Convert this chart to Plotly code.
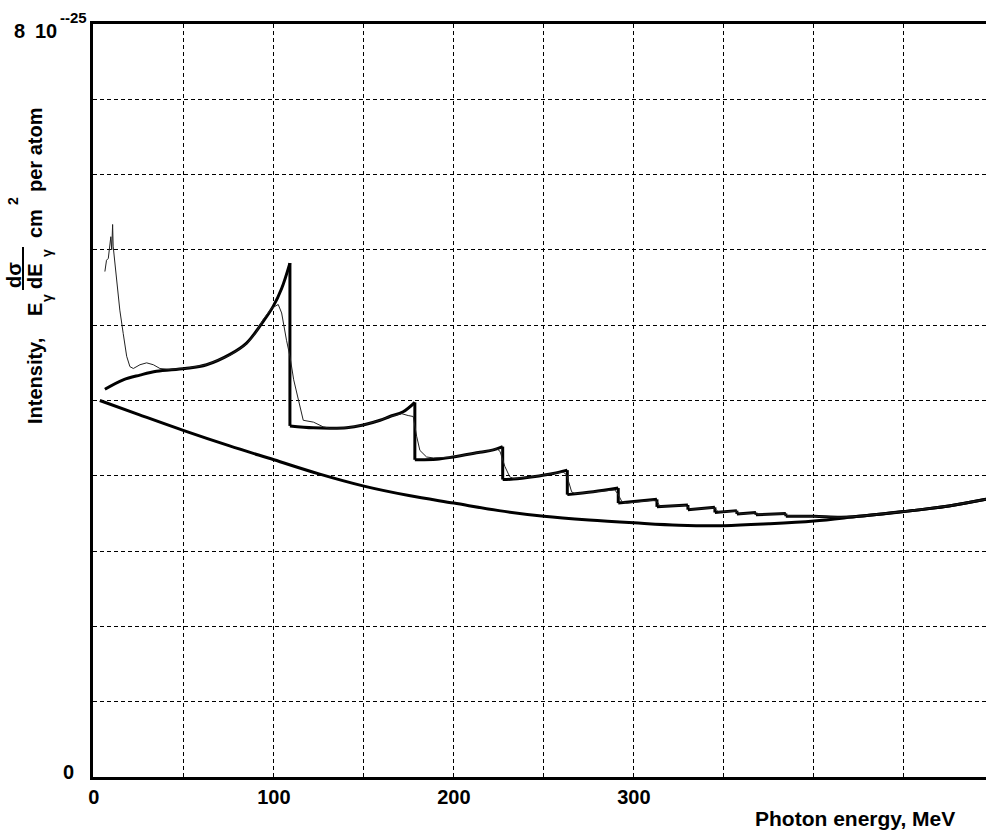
import plotly.graph_objects as go

# Photon energy (MeV) and intensity (units of 1e-25 cm^2 per atom)

# incoherent bremsstrahlung (smooth lower curve)
incoh_e = [3.3, 25, 50, 75, 100, 125, 150, 175, 200, 225, 250, 275, 300,
           325, 350, 375, 400, 425, 450, 475, 495.6]
incoh_i = [4.00, 3.85, 3.68, 3.52, 3.37, 3.22, 3.09, 2.99, 2.91, 2.83, 2.77,
           2.73, 2.70, 2.675, 2.67, 2.69, 2.72, 2.77, 2.82, 2.88, 2.95]

# coherent + incoherent calculation (thick curve with the steps)
calc_e = [6.1, 16.3, 25.6, 34.8, 50.6, 62.6, 75.6, 84.8, 92.2, 99.6, 104.3, 108.9,
          108.9, 121.8, 131.1, 140.4, 149.6, 159, 164.4, 171.8, 178.3,
          178.3, 190.4, 199.6, 214.4, 221.9, 227.1,
          227.1, 233, 244, 255.2, 263,
          263, 277.4, 291.3,
          291.3, 312.8,
          312.8, 330,
          330, 345,
          345, 357.2,
          357.2, 367.8,
          367.8, 384.4,
          384.4, 400, 415, 425, 450, 475, 495.6]
calc_i = [4.12, 4.22, 4.27, 4.31, 4.34, 4.38, 4.49, 4.61, 4.79, 5.00, 5.19, 5.46,
          3.73, 3.71, 3.705, 3.71, 3.74, 3.79, 3.83, 3.88, 3.98,
          3.37, 3.375, 3.40, 3.45, 3.475, 3.51,
          3.16, 3.165, 3.19, 3.225, 3.26,
          3.00, 3.03, 3.07,
          2.91, 2.95,
          2.87, 2.89,
          2.84, 2.865,
          2.81, 2.83,
          2.795, 2.81,
          2.785, 2.80,
          2.77, 2.77, 2.76, 2.77, 2.82, 2.88, 2.95]

# measured spectrum (thin curve)
meas_e = [6.1, 7.0, 8.0, 8.9, 9.4, 9.9, 10.4, 10.7, 12.6, 14.4, 16.3, 18.2, 20,
          21.9, 25.6, 29.3, 33, 36.7, 42, 50.6, 62.6, 75.6, 84.8, 90, 94, 98.7,
          102.4, 104.3, 107, 108.9, 111, 113.5, 116.3, 122, 127.4, 131.1, 140.4,
          149.6, 159, 164.4, 171, 174.6, 177.4, 179.3, 181.1, 184.8, 188.5,
          199.6, 214.4, 221.9, 223.7, 225.6, 228.3, 231, 233, 244, 255.2, 260.7,
          262.6, 265.4, 267.2, 277.4, 289.4, 291.3, 293.2, 296, 310, 312.8, 314.5,
          328.5, 330, 331.5, 344, 345.5, 347, 356.5, 357.8, 359, 367.5, 368.5,
          383.5, 385.5, 400, 415, 425, 450, 475, 495.6]
meas_i = [5.37, 5.49, 5.51, 5.67, 5.74, 5.60, 5.87, 5.64, 5.28, 4.96, 4.71, 4.47,
          4.36, 4.34, 4.38, 4.40, 4.38, 4.34, 4.33, 4.34, 4.38, 4.48, 4.60, 4.72,
          4.86, 4.98, 5.02, 4.93, 4.64, 4.47, 4.22, 4.00, 3.79, 3.77, 3.72, 3.705,
          3.71, 3.74, 3.79, 3.83, 3.86, 3.84, 3.83, 3.62, 3.47, 3.40, 3.39,
          3.40, 3.45, 3.475, 3.49, 3.46, 3.30, 3.19, 3.17, 3.19, 3.225, 3.24,
          3.21, 3.03, 3.01, 3.03, 3.05, 3.00, 2.93, 2.91, 2.94, 2.93, 2.875,
          2.885, 2.87, 2.845, 2.86, 2.845, 2.815, 2.825, 2.81, 2.795, 2.805,
          2.79, 2.795, 2.775, 2.77, 2.76, 2.77, 2.82, 2.88, 2.95]

x_grid = [0, 50, 100, 150, 200, 250, 300, 350, 400, 450]
x_labels = ['0', '', '100', '', '200', '', '300', '', '', '']
y_grid = [0, 0.8, 1.6, 2.4, 3.2, 4.0, 4.8, 5.6, 6.4, 7.2, 8.0]

W, H = 986, 838
L, R, T, B = 93, 0, 24, 61
FONT = 'Liberation Sans, Arial, sans-serif'


def px(x):
    return (x - L) / (W - L - R)


def py(y):
    return (H - B - y) / (H - T - B)


fig = go.Figure()

fig.add_trace(go.Scatter(x=incoh_e, y=incoh_i, mode='lines',
                         line=dict(color='black', width=3, shape='spline'),
                         hoverinfo='skip', showlegend=False))

# draw the calculated curve piece by piece so each piece can be smoothed,
# with the vertical drops between pieces as straight lines
start = 0
for k in range(1, len(calc_e) + 1):
    if k == len(calc_e) or calc_e[k] == calc_e[k - 1]:
        fig.add_trace(go.Scatter(x=calc_e[start:k], y=calc_i[start:k], mode='lines',
                                 line=dict(color='black', width=3, shape='spline'),
                                 hoverinfo='skip', showlegend=False))
        if k < len(calc_e):
            fig.add_trace(go.Scatter(x=calc_e[k - 1:k + 1], y=calc_i[k - 1:k + 1],
                                     mode='lines', line=dict(color='black', width=3),
                                     hoverinfo='skip', showlegend=False))
        start = k

fig.add_trace(go.Scatter(x=meas_e, y=meas_i, mode='lines',
                         line=dict(color='#222222', width=1),
                         hoverinfo='skip', showlegend=False))

fig.update_xaxes(range=[-0.5, 495.6], tickvals=x_grid, ticktext=x_labels,
                 showgrid=True, gridcolor='black', gridwidth=1, griddash='4px,3px',
                 showline=True, linecolor='black', linewidth=3, mirror=True,
                 zeroline=False, ticks='', ticklabelstandoff=0,
                 tickfont=dict(family=FONT, size=20, color='black', weight='bold'))
fig.update_yaxes(range=[0, 8], tickvals=y_grid, showticklabels=False,
                 showgrid=True, gridcolor='black', gridwidth=1, griddash='4px,3px',
                 showline=True, linecolor='black', linewidth=3,
                 zeroline=False, ticks='')

ann = []


def text(s, x, y, size=20, angle=0, xanchor='center'):
    ann.append(dict(text=s, x=px(x), y=py(y), xref='paper', yref='paper',
                    showarrow=False, textangle=angle, xanchor=xanchor,
                    yanchor='middle',
                    font=dict(family=FONT, size=size, color='black', weight='bold')))


# y-axis end labels
text('0', 68, 772)
text('8', 19, 31)
text('10', 46, 31)
text('--25', 73, 17, size=15)

# x-axis title
text('Photon energy, MeV', 855, 818, size=21)

# rotated y-axis title: Intensity, E_γ dσ/dE_γ cm^2 per atom
text('Intensity,', 35, 381, angle=-90)
text('E', 35, 310, angle=-90)
text('γ', 47, 298, size=14, angle=-90)
text('dσ', 14, 275, angle=-90)
text('dE', 35, 276, angle=-90)
text('γ', 47, 253, size=14, angle=-90)
text('cm', 35, 224, angle=-90)
text('2', 13, 201, size=14, angle=-90)
text('per atom', 35, 150, angle=-90)

fig.update_layout(
    width=W, height=H,
    margin=dict(l=L, r=R, t=T, b=B),
    plot_bgcolor='white', paper_bgcolor='white',
    annotations=ann,
    shapes=[dict(type='line', xref='paper', yref='paper',
                 x0=px(23), x1=px(23), y0=py(247), y1=py(290),
                 line=dict(color='black', width=2))],
)

fig.write_html("out.html", config={'responsive': False, 'displayModeBar': False},
               post_script="document.body.style.margin='0px';")
